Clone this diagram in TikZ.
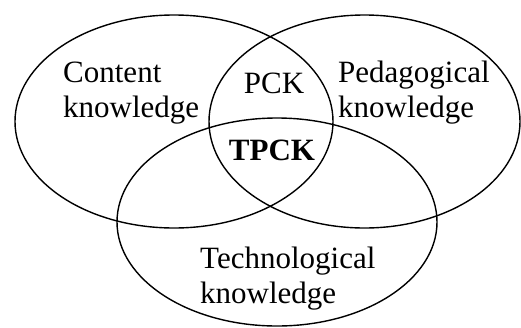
\documentclass[tikz,border=0pt]{standalone}
\usepackage{fontspec}
\setmainfont{Liberation Serif}
\begin{document}
\begin{tikzpicture}[x=1pt,y=-1pt,
  circ/.style={draw=black,line width=1.4pt},
  lbl/.style={inner sep=0pt,font=\fontsize{31}{35}\selectfont,align=left,anchor=base west}]
\useasboundingbox (0,0) rectangle (521,327);
\draw[circ] (174,121.5) ellipse [x radius=159, y radius=106.5];
\draw[circ] (364.5,121.5) ellipse [x radius=155.5, y radius=106.5];
\draw[circ] (277,222) ellipse [x radius=160, y radius=104];
\node[lbl] (ck) at (63,117) {Content\\knowledge};
\node[lbl] (pk) at (338,117) {Pedagogical\\knowledge};
\node[lbl] (tk) at (200,303) {Technological\\knowledge};
\node[lbl,anchor=base] (pck) at (274,93) {PCK};
\node[lbl,anchor=base,font=\fontsize{31}{35}\selectfont\bfseries] (tpck) at (272,160) {TPCK};
\end{tikzpicture}
\end{document}
